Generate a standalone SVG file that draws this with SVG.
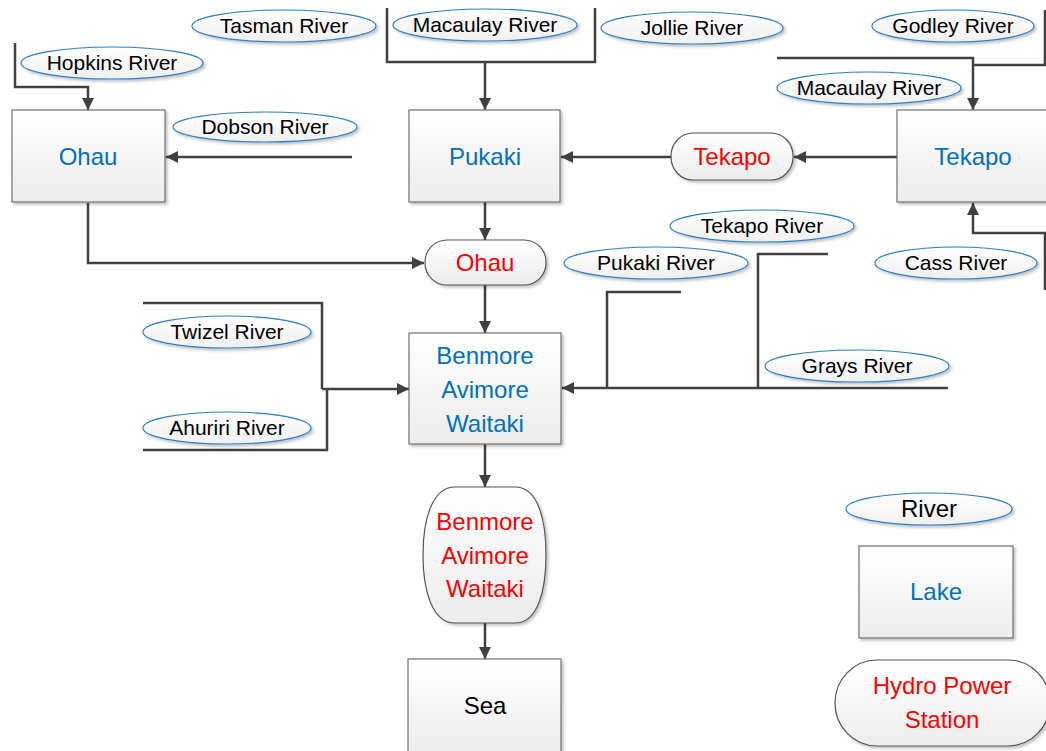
<svg xmlns="http://www.w3.org/2000/svg" width="1046" height="751" viewBox="0 0 1046 751">
<defs>
<linearGradient id="gBox" x1="0" y1="0" x2="0" y2="1"><stop offset="0" stop-color="#ffffff"/><stop offset="1" stop-color="#ececec"/></linearGradient>
<linearGradient id="gEll" x1="0" y1="0" x2="0" y2="1"><stop offset="0" stop-color="#ffffff"/><stop offset="1" stop-color="#f0f0f0"/></linearGradient>
<filter id="sh" x="-10%" y="-10%" width="130%" height="140%"><feDropShadow dx="2" dy="2" stdDeviation="1.5" flood-color="#000" flood-opacity="0.25"/></filter>
<marker id="arr" viewBox="0 0 12 12" refX="12" refY="6" markerWidth="12" markerHeight="12" markerUnits="userSpaceOnUse" orient="auto"><path d="M0,0 L12,6 L0,12 Z" fill="#404040"/></marker>
<style>
.box{fill:url(#gBox);stroke:#707070;stroke-width:1.2;filter:url(#sh)}
.st{fill:url(#gBox);stroke:#555;stroke-width:1.2;filter:url(#sh)}
.ell{fill:url(#gEll);stroke:#2e7ec8;stroke-width:1.2;filter:url(#sh)}
.c{fill:none;stroke:#404040;stroke-width:2.5}
.a{marker-end:url(#arr)}
text{font-family:"Liberation Sans",Arial,sans-serif;text-anchor:middle}
.rt{font-size:21px;fill:#000}
.lt{font-size:24px;fill:#0070c0}
.ht{font-size:24px;fill:#ff0000}
.bt{font-size:24px;fill:#000}
</style>
</defs>
<g id="connectors">
<polyline class="c a" points="15,43 15,87 88,87 88,110"/>
<line class="c a" x1="352" y1="157" x2="166" y2="157"/>
<polyline class="c" points="387,8 387,62 595,62 595,8"/>
<line class="c a" x1="485" y1="62" x2="485" y2="110"/>
<line class="c a" x1="671" y1="157" x2="561" y2="157"/>
<line class="c a" x1="897" y1="157" x2="794" y2="157"/>
<polyline class="c a" points="777,58 973,58 973,110"/>
<polyline class="c" points="1045,10 1045,65 973,65"/>
<polyline class="c a" points="1045,290 1045,233 973,233 973,203"/>
<line class="c a" x1="485" y1="202" x2="485" y2="240"/>
<polyline class="c a" points="88,203 88,263 424,263"/>
<line class="c a" x1="485" y1="285" x2="485" y2="333"/>
<polyline class="c" points="143,303 322,303 322,389"/>
<polyline class="c" points="143,450 327,450 327,389"/>
<line class="c a" x1="322" y1="389" x2="409" y2="389"/>
<polyline class="c" points="681,292 607,292 607,388"/>
<polyline class="c" points="828,254 758,254 758,388"/>
<line class="c a" x1="948" y1="388" x2="562" y2="388"/>
<line class="c a" x1="485" y1="444" x2="485" y2="487"/>
<line class="c a" x1="485" y1="623" x2="485" y2="659"/>
</g>
<g id="lake-ohau"><rect class="box" x="12" y="110" width="153" height="92"/><text class="lt" x="88" y="165">Ohau</text></g>
<g id="lake-pukaki"><rect class="box" x="409" y="110" width="151" height="92"/><text class="lt" x="485" y="165">Pukaki</text></g>
<g id="lake-tekapo"><rect class="box" x="897" y="110" width="153" height="92"/><text class="lt" x="973" y="165">Tekapo</text></g>
<g id="lake-benmore"><rect class="box" x="409" y="333" width="152" height="111"/><text class="lt" x="485" y="364">Benmore</text><text class="lt" x="485" y="398">Avimore</text><text class="lt" x="485" y="432">Waitaki</text></g>
<g id="sea"><rect class="box" x="408" y="659" width="153" height="95"/><text class="bt" x="485" y="714">Sea</text></g>
<g id="station-tekapo"><rect class="st" x="671" y="133" width="122" height="47" rx="22" ry="23"/><text class="ht" x="732" y="165">Tekapo</text></g>
<g id="station-ohau"><rect class="st" x="425" y="240" width="121" height="45" rx="22" ry="22"/><text class="ht" x="485" y="271">Ohau</text></g>
<g id="station-benmore"><path class="st" d="M455,487 H515 C538,487 546,520 546,555 C546,590 538,623 515,623 H455 C432,623 423,590 423,555 C423,520 432,487 455,487 Z"/><text class="ht" x="485" y="530">Benmore</text><text class="ht" x="485" y="564">Avimore</text><text class="ht" x="485" y="597">Waitaki</text></g>
<g id="river-tasman"><ellipse class="ell" cx="284" cy="26" rx="92" ry="16"/><text class="rt" x="284" y="33">Tasman River</text></g>
<g id="river-hopkins"><ellipse class="ell" cx="112" cy="63" rx="91" ry="16"/><text class="rt" x="112" y="70">Hopkins River</text></g>
<g id="river-dobson"><ellipse class="ell" cx="265" cy="127" rx="92" ry="15"/><text class="rt" x="265" y="134">Dobson River</text></g>
<g id="river-macaulay-1"><ellipse class="ell" cx="485" cy="25" rx="92" ry="16"/><text class="rt" x="485" y="32">Macaulay River</text></g>
<g id="river-jollie"><ellipse class="ell" cx="692" cy="28" rx="91" ry="16"/><text class="rt" x="692" y="35">Jollie River</text></g>
<g id="river-godley"><ellipse class="ell" cx="953" cy="26" rx="81" ry="16"/><text class="rt" x="953" y="33">Godley River</text></g>
<g id="river-macaulay-2"><ellipse class="ell" cx="869" cy="88" rx="92" ry="16"/><text class="rt" x="869" y="95">Macaulay River</text></g>
<g id="river-tekapo"><ellipse class="ell" cx="762" cy="226" rx="92" ry="16"/><text class="rt" x="762" y="233">Tekapo River</text></g>
<g id="river-pukaki"><ellipse class="ell" cx="656" cy="263" rx="92" ry="16"/><text class="rt" x="656" y="270">Pukaki River</text></g>
<g id="river-cass"><ellipse class="ell" cx="956" cy="263" rx="81" ry="16"/><text class="rt" x="956" y="270">Cass River</text></g>
<g id="river-twizel"><ellipse class="ell" cx="227" cy="332" rx="84" ry="16"/><text class="rt" x="227" y="339">Twizel River</text></g>
<g id="river-grays"><ellipse class="ell" cx="857" cy="366" rx="92" ry="16"/><text class="rt" x="857" y="373">Grays River</text></g>
<g id="river-ahuriri"><ellipse class="ell" cx="227" cy="428" rx="84" ry="16"/><text class="rt" x="227" y="435">Ahuriri River</text></g>
<g id="legend-river"><ellipse class="ell" cx="929" cy="509" rx="83" ry="16"/><text class="bt" x="929" y="517">River</text></g>
<g id="legend-lake"><rect class="box" x="859" y="546" width="154" height="92"/><text class="lt" x="936" y="600">Lake</text></g>
<g id="legend-station"><rect class="st" x="835" y="660" width="215" height="86" rx="42" ry="43"/><text class="ht" x="942" y="694">Hydro Power</text><text class="ht" x="942" y="728">Station</text></g>
</svg>
